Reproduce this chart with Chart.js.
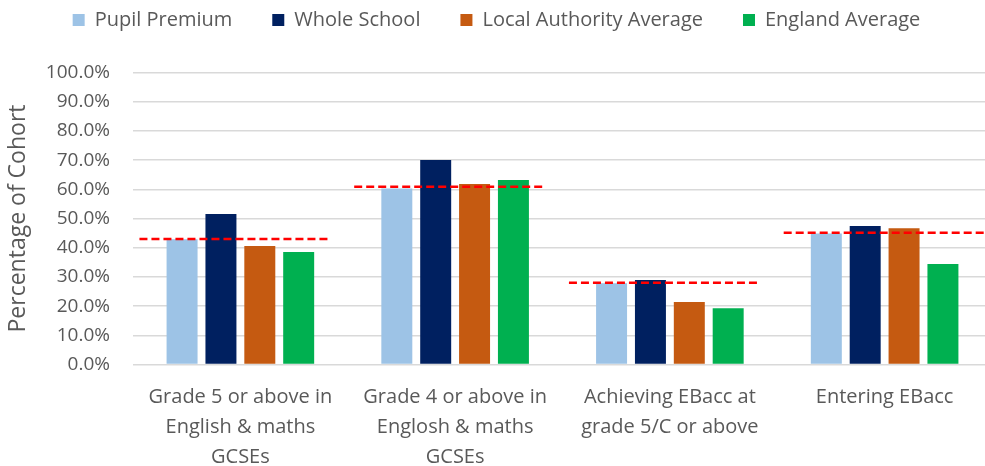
<!DOCTYPE html>
<html>
<head>
<meta charset="utf-8">
<script src="https://cdn.jsdelivr.net/npm/chart.js@4/dist/chart.umd.min.js"></script>
<style>
  html, body { margin: 0; padding: 0; background: #fff; overflow: hidden; }
  #wrap { width: 995px; height: 466px; }
</style>
</head>
<body>
<div id="wrap"><canvas id="chart" width="995" height="466"></canvas></div>
<script>
const categories = [
  ['Grade 5 or above in', 'English & maths', 'GCSEs'],
  ['Grade 4 or above in', 'Englosh & maths', 'GCSEs'],
  ['Achieving EBacc at', 'grade 5/C or above'],
  ['Entering EBacc']
];
const pupilPremium = [42.9, 60.3, 27.8, 44.9];
const wholeSchool = [51.5, 70.0, 28.9, 47.4];
const localAuthority = [40.6, 61.8, 21.4, 46.7];
const englandAverage = [38.5, 63.2, 19.3, 34.4];
// red dashed reference line per group
const ppMarker = [43.0, 60.9, 28.0, 45.1];

const textColor = '#595959';
const fontFamily = "'Open Sans', sans-serif";

// dashed lines across each group
const markerLines = {
  id: 'markerLines',
  afterDatasetsDraw(chart) {
    const { ctx, scales: { x, y } } = chart;
    const cw = x.getPixelForValue(1) - x.getPixelForValue(0);
    ctx.save();
    ctx.strokeStyle = '#FF0000';
    ctx.lineWidth = 2.5;
    ctx.setLineDash([8, 4]);
    ppMarker.forEach((v, i) => {
      const cx = x.getPixelForValue(i);
      const py = y.getPixelForValue(v);
      const right = i === ppMarker.length - 1 ? chart.width : cx + 0.415 * cw;
      ctx.beginPath();
      ctx.moveTo(cx - 0.47 * cw, py);
      ctx.lineTo(right, py);
      ctx.stroke();
    });
    ctx.restore();
  }
};

// legend box taller so the plot starts lower
const legendGap = {
  id: 'legendGap',
  beforeLayout(chart) {
    const lg = chart.legend;
    if (!lg || lg._gapPatched) return;
    const fit = lg.fit;
    lg.fit = function () {
      fit.call(this);
      this.height += 32.5;
    };
    lg._gapPatched = true;
  }
};

const ctx = document.getElementById('chart').getContext('2d');
new Chart(ctx, {
  type: 'bar',
  data: {
    labels: categories,
    datasets: [
      { label: 'Pupil Premium', data: pupilPremium, backgroundColor: '#9DC3E6' },
      { label: 'Whole School', data: wholeSchool, backgroundColor: '#002060' },
      { label: 'Local Authority Average', data: localAuthority, backgroundColor: '#C55A11' },
      { label: 'England Average', data: englandAverage, backgroundColor: '#00B050' }
    ]
  },
  options: {
    responsive: false,
    animation: false,
    devicePixelRatio: 1,
    categoryPercentage: 0.724,
    barPercentage: 0.797,
    layout: { padding: { left: 1, right: 3, top: 0, bottom: 0 } },
    plugins: {
      tooltip: { enabled: false },
      legend: {
        position: 'top',
        labels: {
          color: textColor,
          font: { family: fontFamily, size: 20 },
          boxWidth: 12,
          boxHeight: 12,
          padding: 10,
          generateLabels(chart) {
            const items = Chart.defaults.plugins.legend.labels.generateLabels(chart);
            items.forEach((it, i) => {
              it.lineWidth = 0;
              if (i < items.length - 1) it.text += '\u2003\u2002';
            });
            return items;
          }
        }
      }
    },
    scales: {
      x: {
        grid: { display: false, drawTicks: false },
        border: { display: false },
        afterFit(scale) { scale.height = 101.5; },
        ticks: {
          color: textColor,
          font: { family: fontFamily, size: 20, lineHeight: 1.5 },
          padding: 18,
          maxRotation: 0,
          autoSkip: false
        }
      },
      y: {
        min: 0,
        max: 100,
        grid: { color: '#D9D9D9', lineWidth: 1.5, drawTicks: false },
        border: { display: false },
        afterFit(scale) { scale.width = 132; },
        ticks: {
          stepSize: 10,
          color: textColor,
          font: { family: fontFamily, size: 19 },
          padding: 23,
          callback: v => v.toFixed(1) + '%'
        },
        title: {
          display: true,
          text: 'Percentage of Cohort',
          color: textColor,
          font: { family: fontFamily, size: 23 },
          padding: 4
        }
      }
    }
  },
  plugins: [markerLines, legendGap]
});
</script>
</body>
</html>
